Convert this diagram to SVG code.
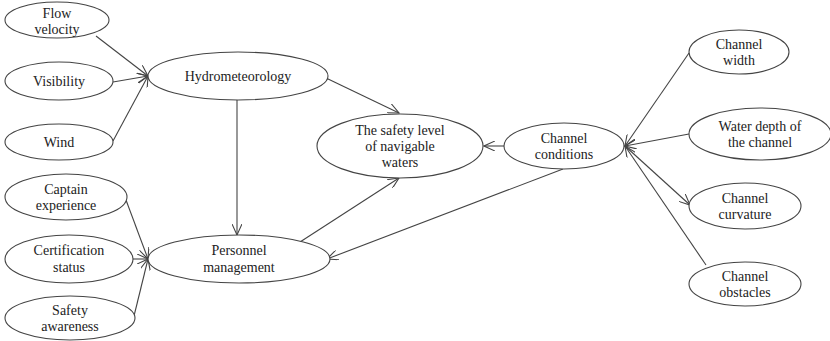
<svg xmlns="http://www.w3.org/2000/svg" width="830" height="341" viewBox="0 0 830 341">
<style>
.n ellipse{fill:#fff;stroke:#444;stroke-width:1.1}
.n text{font-family:"Liberation Serif","Times New Roman","DejaVu Serif",serif;font-size:14px;fill:#222;text-anchor:middle}
#edges line{stroke:#444;stroke-width:1.1;fill:none;marker-end:url(#ah)}
</style>
<defs>
<marker id="ah" viewBox="0 0 12 10" refX="11" refY="5" markerWidth="12" markerHeight="10" markerUnits="userSpaceOnUse" orient="auto">
<path d="M0,0 L11,5 L0,10" fill="none" stroke="#444" stroke-width="1.1"/>
</marker>
</defs>
<rect width="830" height="341" fill="#fff"/>
<g id="edges">
<line x1="96" y1="36" x2="148" y2="76"/>
<line x1="113" y1="82" x2="148" y2="76"/>
<line x1="113" y1="141" x2="148" y2="76"/>
<line x1="126" y1="200" x2="148" y2="259"/>
<line x1="133" y1="259" x2="148" y2="259"/>
<line x1="134" y1="316" x2="148" y2="259"/>
<line x1="237" y1="100" x2="237" y2="235"/>
<line x1="326" y1="78" x2="399" y2="113"/>
<line x1="300" y1="242" x2="399" y2="178"/>
<line x1="504" y1="146" x2="484" y2="146"/>
<line x1="563" y1="169" x2="327" y2="259"/>
<line x1="689" y1="53" x2="625" y2="146"/>
<line x1="689" y1="134" x2="625" y2="146"/>
<line x1="625" y1="146" x2="690" y2="205"/>
<line x1="706" y1="265" x2="625" y2="146"/>
</g>
<g id="flow-velocity" class="n"><ellipse cx="57" cy="20" rx="52" ry="18"/><text x="57" y="18">Flow</text><text x="57" y="34">velocity</text></g>
<g id="visibility" class="n"><ellipse cx="59" cy="81" rx="54" ry="19"/><text x="59" y="86">Visibility</text></g>
<g id="wind" class="n"><ellipse cx="59" cy="142" rx="54" ry="18"/><text x="59" y="147">Wind</text></g>
<g id="hydrometeorology" class="n"><ellipse cx="238" cy="76" rx="90" ry="24"/><text x="238" y="81">Hydrometeorology</text></g>
<g id="captain-experience" class="n"><ellipse cx="66" cy="197" rx="61" ry="23"/><text x="66" y="194">Captain</text><text x="66" y="210">experience</text></g>
<g id="certification-status" class="n"><ellipse cx="69" cy="259" rx="64" ry="24"/><text x="69" y="255">Certification</text><text x="69" y="272">status</text></g>
<g id="safety-awareness" class="n"><ellipse cx="70" cy="318" rx="65" ry="22"/><text x="70" y="315">Safety</text><text x="70" y="331">awareness</text></g>
<g id="personnel-management" class="n"><ellipse cx="239" cy="259" rx="91" ry="24"/><text x="239" y="255">Personnel</text><text x="239" y="272">management</text></g>
<g id="safety-level" class="n"><ellipse cx="400" cy="146" rx="83" ry="32"/><text x="400" y="135">The safety level</text><text x="400" y="151">of navigable</text><text x="400" y="167">waters</text></g>
<g id="channel-conditions" class="n"><ellipse cx="564" cy="146" rx="60" ry="23"/><text x="564" y="143">Channel</text><text x="564" y="159">conditions</text></g>
<g id="channel-width" class="n"><ellipse cx="739" cy="52" rx="50" ry="22"/><text x="739" y="49">Channel</text><text x="739" y="65">width</text></g>
<g id="water-depth" class="n"><ellipse cx="760" cy="134" rx="71" ry="26"/><text x="760" y="131">Water depth of</text><text x="760" y="147">the channel</text></g>
<g id="channel-curvature" class="n"><ellipse cx="745" cy="206" rx="56" ry="23"/><text x="745" y="203">Channel</text><text x="745" y="219">curvature</text></g>
<g id="channel-obstacles" class="n"><ellipse cx="745" cy="284" rx="56" ry="22"/><text x="745" y="281">Channel</text><text x="745" y="297">obstacles</text></g>
</svg>
